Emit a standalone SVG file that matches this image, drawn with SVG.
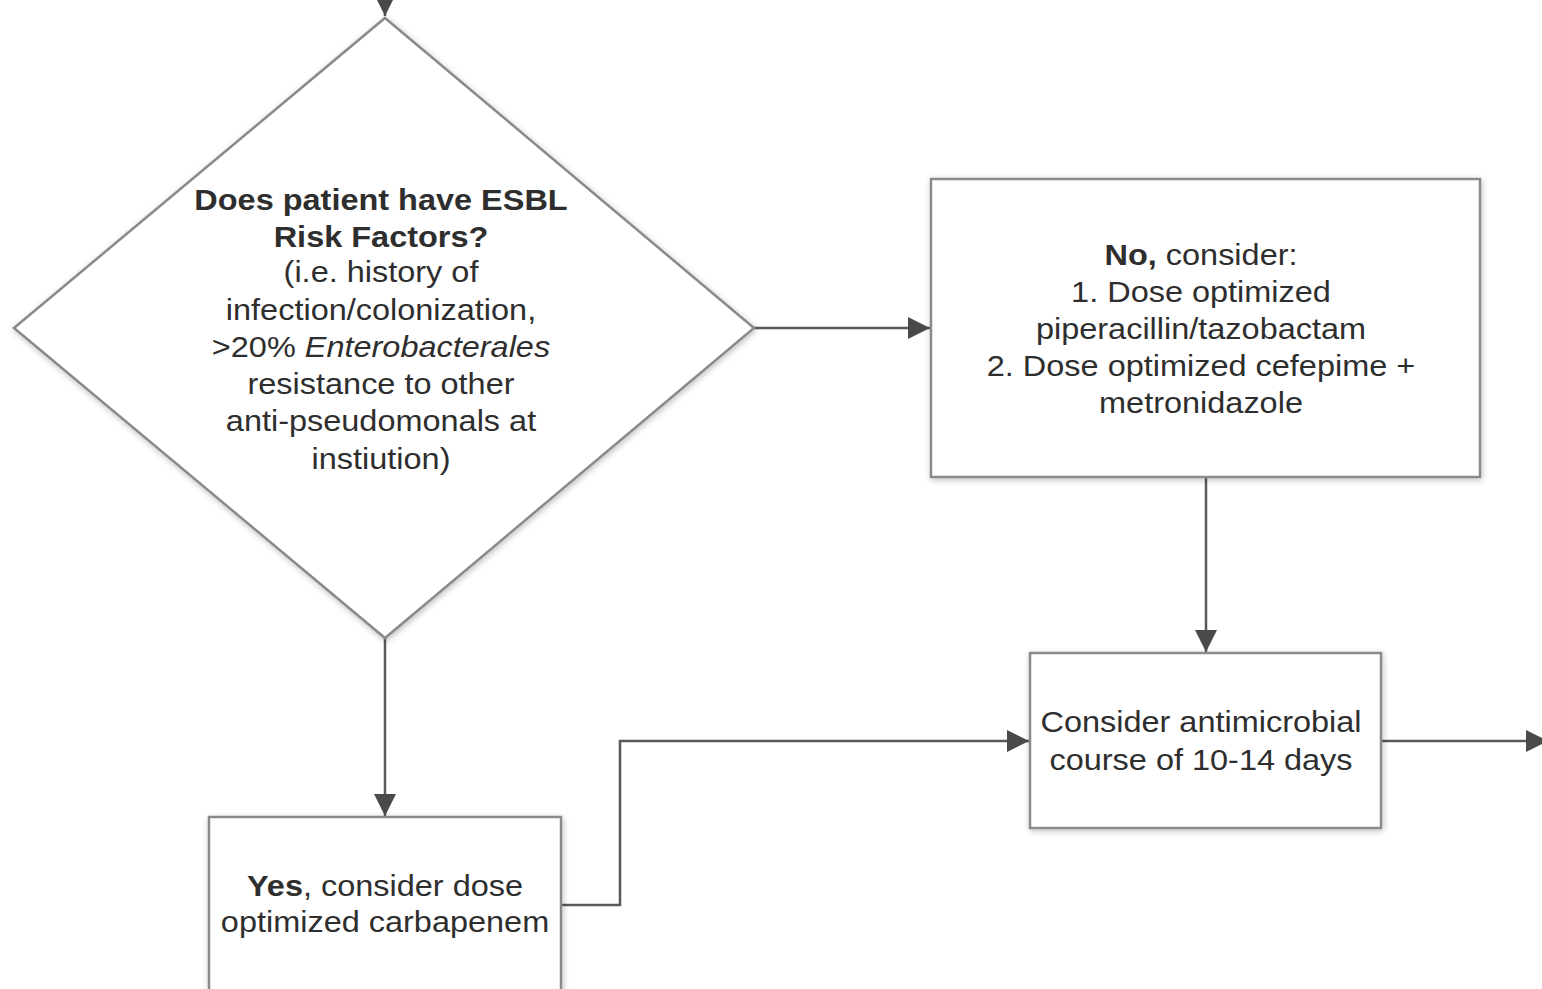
<svg xmlns="http://www.w3.org/2000/svg" width="1542" height="989" viewBox="0 0 1542 989">
<defs>
<style>
.box{fill:#fff;stroke:#8a8a8a;stroke-width:2.5;filter:url(#sh)}
.t{font-family:"Liberation Sans",Arial,sans-serif;font-size:29px;fill:#2e2e2e;text-anchor:middle}
.b{font-weight:bold}
.c{fill:none;stroke:#595959;stroke-width:2.5}
</style>
<filter id="sh" x="-10%" y="-10%" width="120%" height="120%">
<feGaussianBlur in="SourceAlpha" stdDeviation="3"/>
<feOffset dx="1" dy="2"/>
<feComponentTransfer><feFuncA type="linear" slope="0.25"/></feComponentTransfer>
<feMerge><feMergeNode/><feMergeNode in="SourceGraphic"/></feMerge>
</filter>
<marker id="a" viewBox="0 0 22 22" refX="22" refY="11" markerWidth="22" markerHeight="22" orient="auto" markerUnits="userSpaceOnUse">
<path d="M0,0 L22,11 L0,22 z" fill="#4a4a4a"/>
</marker>
</defs>
<rect width="1542" height="989" fill="#fff"/>
<g id="connectors">
<path class="c" d="M385,-10 L385,16" marker-end="url(#a)"/>
<path class="c" d="M754,328 L930,328" marker-end="url(#a)"/>
<path class="c" d="M1206,477 L1206,652" marker-end="url(#a)"/>
<path class="c" d="M385,638 L385,816" marker-end="url(#a)"/>
<path class="c" d="M561,905 L620,905 L620,741 L1029,741" marker-end="url(#a)"/>
<path class="c" d="M1381,741 L1548,741" marker-end="url(#a)"/>
</g>
<g id="decision">
<polygon class="box" points="385,18 754,328 385,638 14,328"/>
<g transform="translate(381,0) scale(1.12,1)">
<text class="t b" x="0" y="210">Does patient have ESBL</text>
<text class="t b" x="0" y="247">Risk Factors?</text>
<text class="t" x="0" y="282">(i.e. history of</text>
<text class="t" x="0" y="320">infection/colonization,</text>
<text class="t" x="0" y="357">&gt;20% <tspan font-style="italic">Enterobacterales</tspan></text>
<text class="t" x="0" y="394">resistance to other</text>
<text class="t" x="0" y="431">anti-pseudomonals at</text>
<text class="t" x="0" y="469">instiution)</text>
</g>
</g>
<g id="no-box">
<rect class="box" x="931" y="179" width="549" height="298"/>
<g transform="translate(1201,0) scale(1.12,1)">
<text class="t" x="0" y="265"><tspan class="b">No,</tspan> consider:</text>
<text class="t" x="0" y="302">1. Dose optimized</text>
<text class="t" x="0" y="339">piperacillin/tazobactam</text>
<text class="t" x="0" y="376">2. Dose optimized cefepime +</text>
<text class="t" x="0" y="413">metronidazole</text>
</g>
</g>
<g id="course-box">
<rect class="box" x="1030" y="653" width="351" height="175"/>
<g transform="translate(1201,0) scale(1.12,1)">
<text class="t" x="0" y="732">Consider antimicrobial</text>
<text class="t" x="0" y="770">course of 10-14 days</text>
</g>
</g>
<g id="yes-box">
<rect class="box" x="209" y="817" width="352" height="190"/>
<g transform="translate(385,0) scale(1.12,1)">
<text class="t" x="0" y="896"><tspan class="b">Yes</tspan>, consider dose</text>
<text class="t" x="0" y="932">optimized carbapenem</text>
</g>
</g>
</svg>
